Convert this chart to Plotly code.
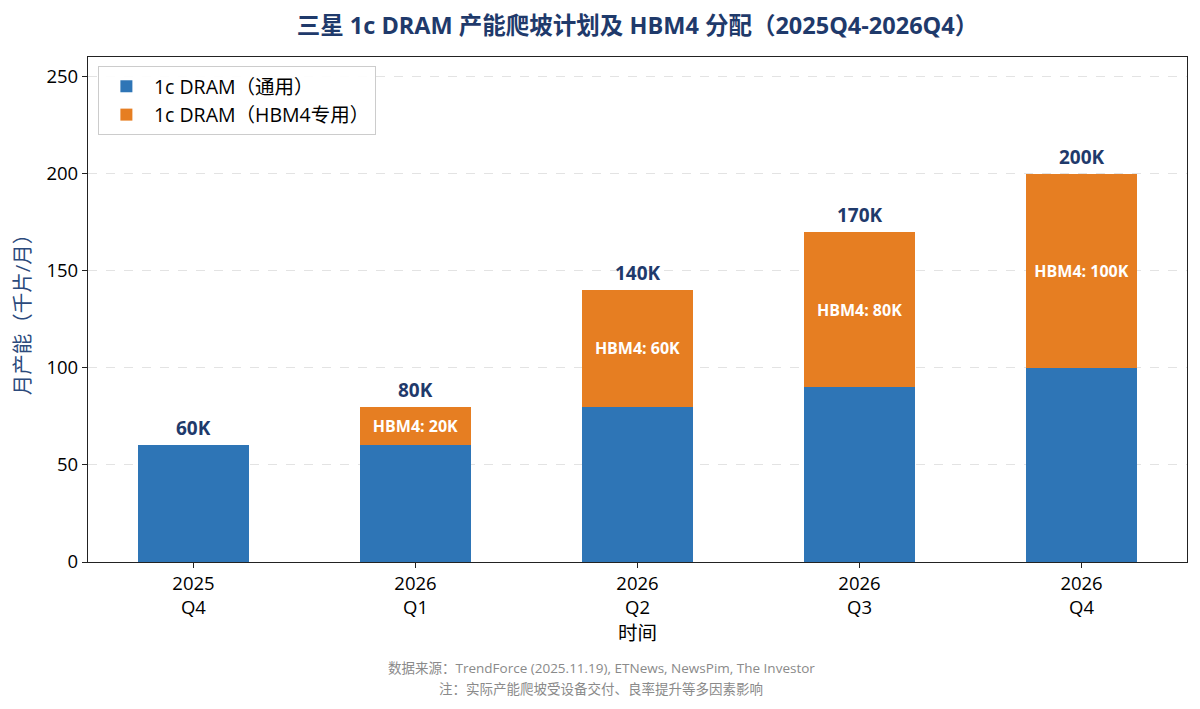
import plotly.graph_objects as go

quarters = ["2025<br>Q4", "2026<br>Q1", "2026<br>Q2", "2026<br>Q3", "2026<br>Q4"]
general = [60, 60, 80, 90, 100]
hbm4 = [0, 20, 60, 80, 100]
totals = [g + h for g, h in zip(general, hbm4)]

FONT = "Open Sans, Noto Sans CJK SC"
NAVY = "#1f3a6b"
BLUE = "#2e75b6"
ORANGE = "#e67e22"
GREY = "#8a8a8a"

fig = go.Figure()

fig.add_trace(go.Bar(x=quarters, y=general, name="1c DRAM（通用）", legendgroup="g",
                     marker=dict(color=BLUE, line=dict(width=0)), width=0.5))
fig.add_trace(go.Bar(x=quarters, y=hbm4, name="1c DRAM（HBM4专用）", legendgroup="h",
                     marker=dict(color=ORANGE, line=dict(width=0)), width=0.5,
                     text=[f"HBM4: {h}K" if h > 0 else "" for h in hbm4],
                     textposition="inside", insidetextanchor="middle",
                     textfont=dict(family=FONT, size=16, color="white", weight="bold"),
                     textangle=0))

# total labels above each bar
for q, t in zip(quarters, totals):
    fig.add_annotation(x=q, y=t, text=f"<b>{t}K</b>", showarrow=False,
                       yanchor="bottom", yshift=2,
                       font=dict(family=FONT, size=19, color=NAVY))

# footer notes, centred on the whole figure
fig.add_annotation(xref="paper", yref="paper", x=0.467, y=-0.21,
                   text="数据来源：TrendForce (2025.11.19), ETNews, NewsPim, The Investor",
                   showarrow=False, yanchor="middle",
                   font=dict(family=FONT, size=13.5, color=GREY))
fig.add_annotation(xref="paper", yref="paper", x=0.467, y=-0.252,
                   text="注：实际产能爬坡受设备交付、良率提升等多因素影响",
                   showarrow=False, yanchor="middle",
                   font=dict(family=FONT, size=13.5, color=GREY))

fig.update_layout(
    barmode="stack",
    width=1192, height=701,
    template="plotly_white",
    paper_bgcolor="white", plot_bgcolor="white",
    font=dict(family=FONT, size=18, color="black"),
    title=dict(text="<b>三星 1c DRAM 产能爬坡计划及 HBM4 分配（2025Q4-2026Q4）</b>",
               xref="paper", x=0.5, xanchor="center", y=0.975, yanchor="middle",
               font=dict(family=FONT, size=23.5, color=NAVY)),
    margin=dict(l=77, r=13, t=49, b=147),
    showlegend=True,
    legend=dict(x=0.009, y=0.982, xanchor="left", yanchor="top",
                bgcolor="rgba(255,255,255,0.9)", bordercolor="#cccccc", borderwidth=1,
                font=dict(family=FONT, size=19.5), traceorder="normal", tracegroupgap=1,
                itemwidth=45),
)

fig.update_xaxes(range=[-0.475, 4.475], showline=True, linecolor="#222222", linewidth=1.2,
                 mirror=True, ticks="outside", ticklen=5, tickcolor="#222222",
                 showgrid=False, tickfont=dict(size=18.5),
                 title=dict(text="时间", font=dict(size=19.5), standoff=2))
fig.update_yaxes(range=[0, 260], dtick=50, showline=True, linecolor="#222222", linewidth=1.2,
                 mirror=True, ticks="outside", ticklen=5, tickcolor="#222222",
                 showgrid=True, gridcolor="#e3e3e3", griddash="dash", zeroline=False,
                 tickfont=dict(size=18.5),
                 title=dict(text="月产能（千片/月）", font=dict(size=20.5, color="#2c4a7c"), standoff=12))

fig.write_html("out.html")
